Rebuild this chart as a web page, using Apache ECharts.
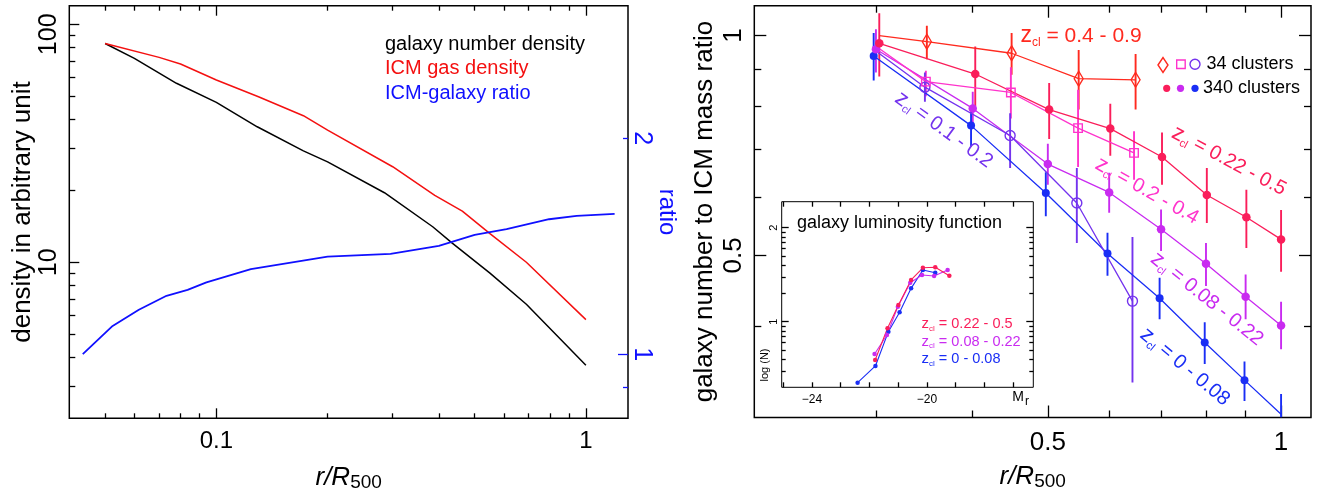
<!DOCTYPE html>
<html><head><meta charset="utf-8">
<script src="https://cdn.jsdelivr.net/npm/echarts@6/dist/echarts.min.js"></script>
<style>html,body{margin:0;padding:0;background:#fff}#c{width:1327px;height:499px}</style>
</head><body><div id="c"></div>
<script>
// ---------- Left panel data ----------
const galX = [0.05, 0.06, 0.078, 0.1, 0.129, 0.172, 0.2, 0.285, 0.385, 0.434, 0.55, 0.69, 1.0];
const galY = [83.0, 71.9, 56.5, 47.0, 37.1, 29.4, 26.4, 19.6, 14.1, 12.06, 9.0, 6.66, 3.69];
const gasX = [0.05, 0.07, 0.08, 0.1, 0.13, 0.172, 0.2, 0.3, 0.39, 0.463, 0.55, 0.69, 1.0];
const gasY = [83.0, 72.6, 68.1, 58.3, 49.6, 41.3, 35.9, 25.2, 19.1, 16.4, 13.2, 10.0, 5.74];
const ratioX = [0.0435, 0.0524, 0.0617, 0.0733, 0.0836, 0.094, 0.124, 0.2, 0.296, 0.4, 0.5, 0.61, 0.795, 0.944, 1.196];
const ratioY = [1.0, 1.095, 1.153, 1.206, 1.229, 1.259, 1.314, 1.368, 1.380, 1.416, 1.467, 1.494, 1.542, 1.559, 1.569];
const lxMajor = [0.1, 1];
const lxMinor = [0.05, 0.06, 0.07, 0.08, 0.09, 0.2, 0.3, 0.4, 0.5, 0.6, 0.7, 0.8, 0.9];
const lyMajor = [10, 100];
const lyMinor = [3, 4, 5, 6, 7, 8, 9, 20, 30, 40, 50, 60, 70, 80, 90];
const ratioMajor = [1];
const ratioMinor = [0.9, 2];
const ratioLabels = [1, 2];

// ---------- Right panel data ----------
// 34 clusters
const dX = [0.303, 0.349, 0.449, 0.548, 0.649];
const dY = [1.0, 0.981, 0.946, 0.873, 0.870];
const dLo = [null, 0.928, 0.884, 0.792, 0.792];
const dHi = [null, 1.032, 1.008, 0.956, 0.944];
const qX = [0.301, 0.348, 0.448, 0.547, 0.646];
const qY = [0.965, 0.865, 0.836, 0.747, 0.691];
const qLo = [null, 0.826, 0.77, 0.661, 0.635];
const qHi = [null, 0.895, 0.905, 0.843, 0.74];
const oX = [0.299, 0.347, 0.447, 0.545, 0.643];
const oY = [0.955, 0.850, 0.730, 0.590, 0.433];
const oLo = [null, 0.812, 0.659, 0.520, 0.335];
const oHi = [null, 0.890, 0.783, 0.659, 0.530];
// 340 clusters
const rX = [0.303, 0.403, 0.502, 0.602, 0.702, 0.802, 0.902, 1.0];
const rY = [0.976, 0.886, 0.792, 0.746, 0.682, 0.605, 0.564, 0.526];
const rLo = [0.879, 0.800, 0.722, 0.685, 0.625, 0.554, 0.512, 0.475];
const rHi = [1.073, 0.966, 0.861, 0.807, 0.737, 0.659, 0.615, 0.577];
const mX = [0.300, 0.400, 0.500, 0.600, 0.700, 0.800, 0.900, 1.0];
const mY = [0.958, 0.795, 0.667, 0.610, 0.543, 0.487, 0.439, 0.401];
const mLo = [0.89, 0.751, 0.625, 0.572, 0.507, 0.454, 0.409, 0.372];
const mHi = [1.02, 0.838, 0.711, 0.649, 0.578, 0.520, 0.471, 0.432];
const bX = [0.298, 0.398, 0.497, 0.597, 0.697, 0.797, 0.897, 1.0];
const bY = [0.938, 0.753, 0.609, 0.503, 0.437, 0.380, 0.3375, 0.303];
const bLo = [0.868, 0.705, 0.566, 0.469, 0.409, 0.355, 0.316, 0.30];
const bHi = [1.008, 0.80, 0.650, 0.537, 0.466, 0.405, 0.358, 0.323];
const rxMajor = [0.5, 1];
const rxMinor = [0.3, 0.4, 0.6, 0.7, 0.8, 0.9];
const ryMajor = [0.5, 1];
const ryMinor = [0.4, 0.6, 0.7, 0.8, 0.9];

// ---------- Inset (luminosity function) ----------
const lfMr = [-21.80, -21.37, -20.99, -20.55, -20.14, -19.71, -19.22];
const lfNr = [0.593, 0.930, 1.178, 1.444, 1.574, 1.579, 1.489];
const lfMm = [-21.82, -21.39, -21.01, -20.58, -20.17, -19.75, -19.28];
const lfNm = [0.656, 0.859, 1.160, 1.415, 1.497, 1.486, 1.550];
const lfMb = [-22.41, -21.79, -21.34, -20.95, -20.55, -20.14, -19.71];
const lfNb = [0.351, 0.529, 0.894, 1.100, 1.355, 1.550, 1.521];
const ixTicks = [-25, -24, -23, -22, -21, -20, -19, -18, -17];
const ixLabels = [-24, -20];
const iyMajor = [1, 2];
const iyMinorN = [3, 4, 5, 6, 7, 8, 9, 20, 30, 40, 50, 60, 70, 80, 90];

// ---------- build ----------
const FONT = '"Liberation Sans", Arial, Helvetica, sans-serif';
const C = {red:'#ff2a1f', crim:'#fa1e5a', pink:'#ff33cc', mag:'#c92bf0', vio:'#7433ee', blue:'#1a2ef5'};
const zip = (xs, ys) => xs.map((x, i) => [x, ys[i]]);
const zip3 = (xs, lo, hi) => xs.map((x, i) => [x, lo[i], hi[i]]).filter(d => d[1] != null);

function ax(type, gridIndex, position, min, max, ticks, len, color, labels, labelOpt, extra) {
  return Object.assign({
    type, gridIndex, position, min, max,
    axisLine: {show: false},
    splitLine: {show: false},
    minorTick: {show: false},
    axisTick: {show: true, inside: true, length: len, customValues: ticks, lineStyle: {color, width: 1.3}},
    axisLabel: labels ? Object.assign({show: true, customValues: labels, color, fontFamily: FONT}, labelOpt) : {show: false}
  }, extra || {});
}

const xTitle = {
  name: '{i|r/R}{s|500}', nameLocation: 'middle', nameGap: 44,
  nameTextStyle: {rich: {
    i: {fontFamily: FONT, fontSize: 26, fontStyle: 'italic', color: '#000', lineHeight: 30},
    s: {fontFamily: FONT, fontSize: 19, color: '#000', verticalAlign: 'bottom', lineHeight: 16}
  }}
};

const xAxis = [
  // grid 0
  ax('log', 0, 'bottom', 0.04, 1.3, lxMajor, 10, '#000', lxMajor, {fontSize: 24, margin: 11}, xTitle),
  ax('log', 0, 'bottom', 0.04, 1.3, lxMinor, 5, '#000'),
  ax('log', 0, 'top', 0.04, 1.3, lxMajor, 10, '#000'),
  ax('log', 0, 'top', 0.04, 1.3, lxMinor, 5, '#000'),
  // grid 1
  ax('log', 1, 'bottom', 0.209, 1.093, rxMajor, 12, '#000', rxMajor, {fontSize: 26, margin: 12}, xTitle),
  ax('log', 1, 'bottom', 0.209, 1.093, rxMinor, 7, '#000'),
  ax('log', 1, 'top', 0.209, 1.093, rxMajor, 12, '#000'),
  ax('log', 1, 'top', 0.209, 1.093, rxMinor, 7, '#000'),
  // inset
  ax('value', 2, 'bottom', -25.05, -16.3, ixTicks, 5, '#000', ixLabels, {fontSize: 12, margin: 6, formatter: v => String(v).replace('-', '\u2212')},
     {z: 10, name: '{m|M}{s|r}', nameLocation: 'end', nameGap: -21,
      nameTextStyle: {verticalAlign: 'top', align: 'left', padding: [3, 0, 0, 0], rich: {
        m: {fontFamily: FONT, fontSize: 14, color: '#000'},
        s: {fontFamily: FONT, fontSize: 12, color: '#000', verticalAlign: 'bottom', padding: [0, 0, -3, 1]}}}}),
  ax('value', 2, 'top', -25.05, -16.3, ixTicks, 5, '#000', null, null, {z: 10})
];

const yAxis = [
  // grid 0
  ax('log', 0, 'left', 2.21, 119.7, lyMajor, 10, '#000', lyMajor,
     {fontSize: 25, margin: 8, rotate: 90,
      formatter: v => (v >= 100 ? '{a|' + v + '}' : '{b|' + v + '}'),
      rich: {a: {fontFamily: FONT, fontSize: 25, color: '#000', padding: [0, 20, 0, 0]},
             b: {fontFamily: FONT, fontSize: 25, color: '#000'}}},
     {name: 'density in arbitrary unit', nameLocation: 'middle', nameGap: 30, nameRotate: 90,
      nameTextStyle: {fontFamily: FONT, fontSize: 26, color: '#000'}}),
  ax('log', 0, 'left', 2.21, 119.7, lyMinor, 6, '#000'),
  ax('log', 0, 'right', 0.814, 3.06, ratioMajor, 10, '#1010ff', ratioLabels, {fontSize: 25, margin: 1, rotate: -90},
     {name: 'ratio', nameLocation: 'middle', nameGap: 1, nameRotate: -90,
      nameTextStyle: {fontFamily: FONT, fontSize: 24, color: '#1010ff'}}),
  ax('log', 0, 'right', 0.814, 3.06, ratioMinor, 5, '#1010ff'),
  // grid 1
  ax('log', 1, 'left', 0.3, 1.099, ryMajor, 12, '#000', ryMajor, {fontSize: 26, margin: 7, rotate: 90},
     {name: 'galaxy number to ICM mass ratio', nameLocation: 'middle', nameGap: 36, nameRotate: 90,
      nameTextStyle: {fontFamily: FONT, fontSize: 26, color: '#000'}}),
  ax('log', 1, 'left', 0.3, 1.099, ryMinor, 7, '#000'),
  ax('log', 1, 'right', 0.3, 1.099, ryMajor, 12, '#000'),
  ax('log', 1, 'right', 0.3, 1.099, ryMinor, 7, '#000'),
  // inset (log N)
  ax('value', 2, 'left', 0.302, 2.277, iyMajor, 7, '#000', iyMajor, {fontSize: 11, margin: 2, rotate: 90}, {z: 10}),
  ax('value', 2, 'left', 0.302, 2.277, iyMinorN.map(Math.log10), 4, '#000', null, null, {z: 10}),
  ax('value', 2, 'right', 0.302, 2.277, iyMajor, 7, '#000', null, null, {z: 10}),
  ax('value', 2, 'right', 0.302, 2.277, iyMinorN.map(Math.log10), 4, '#000', null, null, {z: 10})
];

function lineS(xi, yi, data, color, width, extra) {
  return Object.assign({type: 'line', xAxisIndex: xi, yAxisIndex: yi, data, showSymbol: false, symbol: 'none',
    lineStyle: {color, width}, itemStyle: {color}, animation: false, z: 3, silent: true}, extra || {});
}
function errS(xs, lo, hi, color) {
  return {type: 'custom', xAxisIndex: 4, yAxisIndex: 4, data: zip3(xs, lo, hi), clip: true, z: 2, silent: true,
    encode: {x: 0, y: [1, 2]},
    renderItem: (params, api) => {
      const a = api.coord([api.value(0), api.value(1)]);
      const b = api.coord([api.value(0), api.value(2)]);
      return {type: 'line', shape: {x1: a[0], y1: a[1], x2: b[0], y2: b[1]}, style: {stroke: color, lineWidth: 1.9}};
    }};
}
function markS(xs, ys, color, symbol, size, open, hideFirst, hideLast) {
  const data = zip(xs, ys).map((d, i) => ((hideFirst && i === 0) || (hideLast && i === xs.length - 1)) ? {value: d, symbol: 'none'} : d);
  return {type: 'line', xAxisIndex: 4, yAxisIndex: 4, data, symbol, symbolSize: size, showSymbol: true, clip: true,
    lineStyle: {color, width: 1.3}, z: 3, silent: true, animation: false,
    itemStyle: open ? {color: 'rgba(255,255,255,0)', borderColor: color, borderWidth: 1.4} : {color, borderWidth: 0}};
}
function lfS(xs, ys, color) {
  return {type: 'line', xAxisIndex: 8, yAxisIndex: 8, data: zip(xs, ys), symbol: 'circle', symbolSize: 4.5, showSymbol: true,
    lineStyle: {color, width: 1.1}, itemStyle: {color}, z: 5, silent: true, animation: false};
}

const series = [
  lineS(0, 0, zip(galX, galY), '#000', 1.5),
  lineS(0, 0, zip(gasX, gasY), '#f41010', 1.5),
  lineS(0, 2, zip(ratioX, ratioY), '#1010ff', 1.8),
  errS(dX, dLo, dHi, C.red), errS(qX, qLo, qHi, C.pink), errS(oX, oLo, oHi, C.vio),
  errS(rX, rLo, rHi, C.crim), errS(mX, mLo, mHi, C.mag), errS(bX, bLo, bHi, C.blue),
  markS(bX, bY, C.blue, 'circle', 8, false, false, true),
  markS(mX, mY, C.mag, 'circle', 8.5, false),
  markS(rX, rY, C.crim, 'circle', 8.5, false),
  markS(oX, oY, C.vio, 'circle', 10, true, true),
  markS(qX, qY, C.pink, 'rect', 8.5, true, true),
  markS(dX, dY, C.red, 'diamond', [9, 15], true, true),
  lfS(lfMb, lfNb, C.blue), lfS(lfMm, lfNm, C.mag), lfS(lfMr, lfNr, C.crim)
];

function zlabel(txt, x, y, color, rotDeg, fs) {
  return {type: 'text', x, y, rotation: -rotDeg * Math.PI / 180, z: 10, silent: true,
    style: {text: '{z|z}{s|cl}{t| ' + txt + '}', align: 'center', verticalAlign: 'middle', fill: color,
      rich: {z: {fontFamily: FONT, fontSize: fs + 2, fill: color, lineHeight: fs + 4},
             s: {fontFamily: FONT, fontSize: Math.round(fs * 0.55), fill: color, verticalAlign: 'bottom', lineHeight: 10},
             t: {fontFamily: FONT, fontSize: fs, fill: color, lineHeight: fs + 4}}}};
}
function ilabel(txt, x, y, color) {
  return {type: 'text', x, y, z: 10, silent: true,
    style: {text: '{z|z}{s|cl}{t| ' + txt + '}', align: 'left', verticalAlign: 'middle', fill: color,
      rich: {z: {fontFamily: FONT, fontSize: 15, fill: color, lineHeight: 17},
             s: {fontFamily: FONT, fontSize: 8, fill: color, verticalAlign: 'bottom', lineHeight: 7},
             t: {fontFamily: FONT, fontSize: 14.5, fill: color, lineHeight: 17}}}};
}
const txt = (text, x, y, color, fs, extra) => Object.assign({type: 'text', x, y, z: 10, silent: true,
  style: {text, fill: color, fontFamily: FONT, fontSize: fs, align: 'left', verticalAlign: 'middle'}}, extra || {});

const graphic = [
  txt('galaxy number density', 385, 44, '#000', 20),
  txt('ICM gas density', 385, 68.5, '#f41010', 20),
  txt('ICM-galaxy ratio', 385, 93, '#1010ff', 20),
  zlabel('= 0.4 - 0.9', 1081, 36, C.red, 0, 21),
  zlabel('= 0.1 - 0.2', 944, 130, C.vio, 36, 20),
  zlabel('= 0.22 - 0.5', 1229, 161, C.crim, 28, 20),
  zlabel('= 0.2 - 0.4', 1147, 191, C.pink, 29.6, 20),
  zlabel('= 0.08 - 0.22', 1207, 299, C.mag, 38.6, 20),
  zlabel('= 0 - 0.08', 1185, 367, C.blue, 39.8, 20),
  {type: 'polygon', z: 10, shape: {points: [[1158, 65], [1163, 57.5], [1168, 65], [1163, 72.5]]}, style: {fill: 'none', stroke: C.red, lineWidth: 1.4}},
  {type: 'rect', z: 10, shape: {x: 1176.7, y: 60, width: 8.5, height: 8.5}, style: {fill: 'none', stroke: C.pink, lineWidth: 1.4}},
  {type: 'circle', z: 10, shape: {cx: 1195, cy: 64.3, r: 5}, style: {fill: 'none', stroke: C.vio, lineWidth: 1.4}},
  txt('34 clusters', 1206.5, 64, '#000', 18),
  {type: 'circle', z: 10, shape: {cx: 1166.7, cy: 88.3, r: 3.6}, style: {fill: C.crim}},
  {type: 'circle', z: 10, shape: {cx: 1180.5, cy: 88.3, r: 3.6}, style: {fill: C.mag}},
  {type: 'circle', z: 10, shape: {cx: 1195, cy: 88.3, r: 3.6}, style: {fill: C.blue}},
  txt('340 clusters', 1203, 88.3, '#000', 18),
  txt('galaxy luminosity function', 797, 223, '#000', 18),
  ilabel('= 0.22 - 0.5', 921.5, 324, C.crim),
  ilabel('= 0.08 - 0.22', 921.5, 341.5, C.mag),
  ilabel('= 0 - 0.08', 921.5, 359, C.blue),
  txt('log (N)', 765, 365, '#000', 11, {rotation: Math.PI / 2, style: {text: 'log (N)', fill: '#000', fontFamily: FONT, fontSize: 11, align: 'center', verticalAlign: 'middle'}})
];

const option = {
  animation: false,
  backgroundColor: '#fff',
  grid: [
    {left: 69.3, top: 5.7, width: 558.7, height: 412.6, show: true, borderColor: '#000', borderWidth: 1.5, backgroundColor: 'rgba(0,0,0,0)', containLabel: false},
    {left: 754.3, top: 5.7, width: 556.7, height: 411.8, show: true, borderColor: '#000', borderWidth: 1.5, backgroundColor: 'rgba(0,0,0,0)', containLabel: false},
    {left: 781.7, top: 201.7, width: 251.6, height: 185.6, show: true, borderColor: '#000', borderWidth: 1, backgroundColor: '#fff', containLabel: false, z: 4}
  ],
  xAxis, yAxis, series, graphic
};
const chart = echarts.init(document.getElementById('c'), null, {width: 1327, height: 499});
chart.setOption(option);
</script></body></html>
